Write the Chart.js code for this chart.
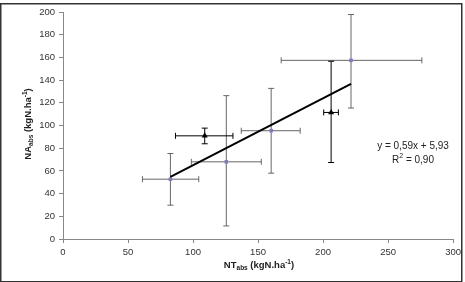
<!DOCTYPE html>
<html><head><meta charset="utf-8">
<script src="https://cdn.jsdelivr.net/npm/chart.js@4.4.0/dist/chart.umd.min.js"></script>
<style>html,body{margin:0;padding:0;background:#fff;}canvas{display:block;}</style>
</head><body>
<canvas id="c" width="465" height="282"></canvas>
<script>
// Series A (blue squares)
const blueX = [82.6, 125.6, 160.1, 221.5];
const blueY = [52.7, 68.0, 95.4, 157.4];
const blueXLo = [61.1, 98.7, 137.1, 167.8];
const blueXHi = [104.4, 152.5, 182.4, 276.0];
const blueYLo = [29.8, 11.5, 58.0, 115.4];
const blueYHi = [75.3, 126.3, 132.7, 197.8];
// Series B (black triangles)
const triX = [109.0, 206.2];
const triY = [90.9, 111.5];
const triXLo = [86.5, 200.5];
const triXHi = [130.7, 211.8];
const triYLo = [83.9, 67.4];
const triYHi = [97.7, 156.6];
// Linear trend
const slope = 0.59, intercept = 5.93;
const trendX = [82.6, 221.5];
const xTicks = [0, 50, 100, 150, 200, 250, 300];
const yTicks = [0, 20, 40, 60, 80, 100, 120, 140, 160, 180, 200];
const eqText = 'y = 0,59x + 5,93';
const r2Text = '0,90';

const FONT = '"Liberation Sans", Arial, sans-serif';

const errorBars = {
  id: 'errorBars',
  beforeDatasetsDraw(chart) {
    const ctx = chart.ctx, xs = chart.scales.x, ys = chart.scales.y;
    chart.data.datasets.forEach(ds => {
      if (!ds.err) return;
      const e = ds.err;
      ctx.save();
      ctx.strokeStyle = ds.errColor;
      ctx.lineWidth = 1;
      ds.data.forEach((p, i) => {
        const px = xs.getPixelForValue(p.x), py = ys.getPixelForValue(p.y);
        const x1 = xs.getPixelForValue(e.xlo[i]), x2 = xs.getPixelForValue(e.xhi[i]);
        const y1 = ys.getPixelForValue(e.ylo[i]), y2 = ys.getPixelForValue(e.yhi[i]);
        const c = 3;
        ctx.beginPath();
        ctx.moveTo(x1, py); ctx.lineTo(x2, py);
        ctx.moveTo(x1, py - c); ctx.lineTo(x1, py + c);
        ctx.moveTo(x2, py - c); ctx.lineTo(x2, py + c);
        ctx.moveTo(px, y1); ctx.lineTo(px, y2);
        ctx.moveTo(px - c, y1); ctx.lineTo(px + c, y1);
        ctx.moveTo(px - c, y2); ctx.lineTo(px + c, y2);
        ctx.stroke();
      });
      ctx.restore();
    });
  }
};

function drawRich(ctx, parts, x, y, align) {
  let w = 0;
  parts.forEach(p => { ctx.font = 'bold ' + p.size + 'px ' + FONT; p.w = ctx.measureText(p.t).width; w += p.w; });
  let cx = align === 'center' ? x - w / 2 : x;
  parts.forEach(p => {
    ctx.font = 'bold ' + p.size + 'px ' + FONT;
    ctx.fillText(p.t, cx, y + (p.dy || 0));
    cx += p.w;
  });
}

const annotations = {
  id: 'annotations',
  afterDraw(chart) {
    const ctx = chart.ctx;
    ctx.save();
    ctx.fillStyle = '#222';
    ctx.textBaseline = 'alphabetic';
    ctx.font = '10px ' + FONT;
    ctx.textAlign = 'center';
    ctx.fillText(eqText, 413, 149);
    ctx.textAlign = 'left';
    const a = 'R', b = ' = ' + r2Text;
    const wa = ctx.measureText(a).width, wb = ctx.measureText(b).width;
    ctx.font = '7px ' + FONT; const ws = ctx.measureText('2').width;
    const tot = wa + ws + wb; let sx = 413 - tot / 2;
    ctx.font = '10px ' + FONT; ctx.fillText(a, sx, 163); sx += wa;
    ctx.font = '7px ' + FONT; ctx.fillText('2', sx, 158); sx += ws;
    ctx.font = '10px ' + FONT; ctx.fillText(b, sx, 163);
    const parts = [
      {t: 'NT', size: 9.5},
      {t: 'abs', size: 6.5, dy: 2},
      {t: ' (kgN.ha', size: 9.5},
      {t: '-1', size: 6.5, dy: -4},
      {t: ')', size: 9.5}
    ];
    drawRich(ctx, parts, 259, 268, 'center');
    ctx.translate(31, 124);
    ctx.rotate(-Math.PI / 2);
    const parts2 = [
      {t: 'NA', size: 9.5},
      {t: 'abs', size: 6.5, dy: 2},
      {t: ' (kgN.ha', size: 9.5},
      {t: '-1', size: 6.5, dy: -4},
      {t: ')', size: 9.5}
    ];
    drawRich(ctx, parts2, 0, 0, 'center');
    ctx.restore();
    ctx.save();
    ctx.strokeStyle = '#333';
    ctx.lineWidth = 1.5;
    ctx.strokeRect(0.75, 3.75, 461, 278);
    ctx.restore();
  }
};

const tickFont = { family: FONT, size: 9.5 };

new Chart(document.getElementById('c'), {
  type: 'scatter',
  data: {
    datasets: [
      {
        type: 'line',
        data: trendX.map(x => ({ x, y: slope * x + intercept })),
        borderColor: '#000', borderWidth: 2, pointRadius: 0, fill: false, order: 0
      },
      {
        data: blueX.map((x, i) => ({ x, y: blueY[i] })),
        pointStyle: 'rect', pointRadius: 2.5, backgroundColor: '#7b7bc0', borderColor: '#7b7bc0', borderWidth: 0,
        err: { xlo: blueXLo, xhi: blueXHi, ylo: blueYLo, yhi: blueYHi }, errColor: '#666', order: 1
      },
      {
        data: triX.map((x, i) => ({ x, y: triY[i] })),
        pointStyle: 'triangle', pointRadius: 3.5, backgroundColor: '#000', borderColor: '#000', borderWidth: 0,
        err: { xlo: triXLo, xhi: triXHi, ylo: triYLo, yhi: triYHi }, errColor: '#000', order: 1
      }
    ]
  },
  options: {
    responsive: false, animation: false, devicePixelRatio: 1,
    layout: { padding: { top: 12, right: 11, left: 0, bottom: 0 } },
    plugins: { legend: { display: false }, tooltip: { enabled: false } },
    scales: {
      x: {
        type: 'linear', min: 0, max: 300,
        afterBuildTicks: s => { s.ticks = xTicks.map(v => ({ value: v })); },
        afterFit: s => { s.height = 43; },
        ticks: { font: tickFont, color: '#333', padding: 4, maxRotation: 0 },
        grid: { display: true, drawOnChartArea: false, drawTicks: true, tickLength: 4, color: '#888' },
        border: { display: true, color: '#888', width: 1 }
      },
      y: {
        type: 'linear', min: 0, max: 200,
        afterBuildTicks: s => { s.ticks = yTicks.map(v => ({ value: v })); },
        afterFit: s => { s.width = 63; },
        ticks: { font: tickFont, color: '#333', padding: 4 },
        grid: { display: true, drawOnChartArea: false, drawTicks: true, tickLength: 4, color: '#888' },
        border: { display: true, color: '#888', width: 1 }
      }
    }
  },
  plugins: [errorBars, annotations]
});
</script>
</body></html>
